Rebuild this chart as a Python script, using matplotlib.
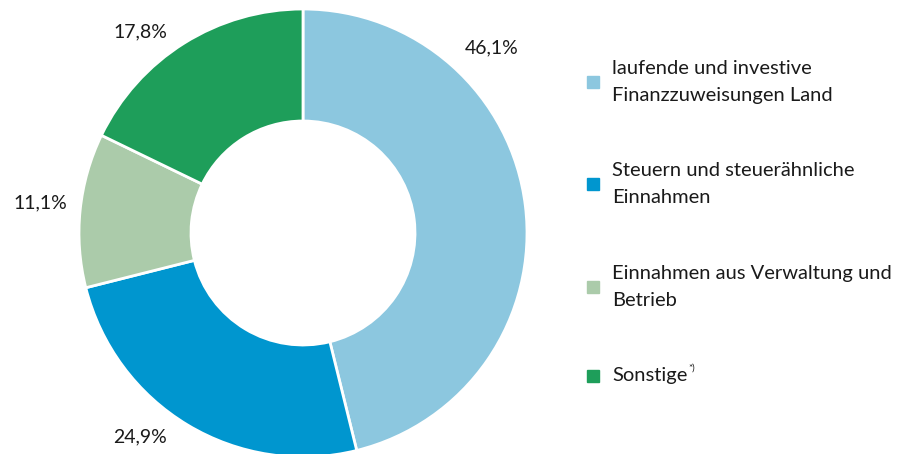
import matplotlib.pyplot as plt
from matplotlib.patches import Rectangle

plt.rcParams['font.family'] = ['Lato', 'DejaVu Sans']

# Daten
kategorien = ['laufende und investive\nFinanzzuweisungen Land',
              'Steuern und steuerähnliche\nEinnahmen',
              'Einnahmen aus Verwaltung und\nBetrieb',
              'Sonstige']
anteile = [46.1, 24.9, 11.1, 17.8]
beschriftungen = ['46,1%', '24,9%', '11,1%', '17,8%']
farben = ['#8cc7df', '#0096cf', '#abcbaa', '#1e9e5a']

fig = plt.figure(figsize=(9, 4.54), dpi=100)
W, H = 900, 454

# Donut: Mittelpunkt (303, 233) px, Radius 224 px
cx, cy, r = 303, 233, 224
ax = fig.add_axes([(cx - r) / W, (H - cy - r) / H, 2 * r / W, 2 * r / H])
ax.pie(anteile, colors=farben, startangle=90, counterclock=False,
       wedgeprops=dict(width=0.5, edgecolor='white', linewidth=2))
ax.set_xlim(-1, 1)
ax.set_ylim(-1, 1)
ax.set_aspect('equal')
ax.axis('off')
for p in ax.patches:
    p.set_clip_on(False)

# Prozentbeschriftungen (Positionen in Pixel)
label_pos = [(492, 48), (140, 437), (40, 203), (140, 32)]
for txt, (x, y) in zip(beschriftungen, label_pos):
    fig.text(x / W, 1 - y / H, txt, fontsize=14, ha='center', va='center', color='#1a1a1a')

# Legende
leg_y = [82, 184, 287, 376]
renderer = fig.canvas.get_renderer()
for kat, farbe, y in zip(kategorien, farben, leg_y):
    fig.add_artist(Rectangle((587 / W, 1 - (y + 6) / H), 12 / W, 12 / H,
                             transform=fig.transFigure, color=farbe))
    t = fig.text(612 / W, 1 - y / H, kat, fontsize=14.5, ha='left', va='center',
                 color='#1a1a1a', linespacing=1.7)
    if kat == 'Sonstige':
        bb = t.get_window_extent(renderer)
        fig.text((bb.x1 + 1) / W, 1 - (y - 8) / H, '*)', fontsize=7,
                 ha='left', va='center', color='#1a1a1a')

fig.savefig('out.png', dpi=100)
